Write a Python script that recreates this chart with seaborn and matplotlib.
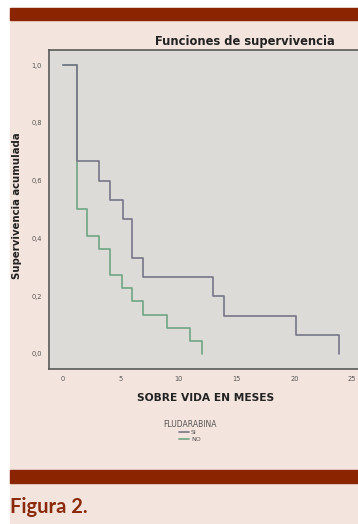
import numpy as np
import pandas as pd
import matplotlib
matplotlib.use("Agg")
import matplotlib.pyplot as plt
from matplotlib.patches import Rectangle
import seaborn as sns

# Kaplan-Meier step estimates (months, cumulative survival)
meses_si = [0, 1.2, 3.1, 4.1, 5.2, 6.0, 6.9, 13.0, 13.9, 20.1, 23.9]
surv_si = [1.0, 0.667, 0.600, 0.533, 0.467, 0.333, 0.267, 0.200, 0.133, 0.067, 0.0]
meses_no = [0, 1.2, 2.1, 3.1, 4.1, 5.1, 6.0, 6.9, 9.0, 11.0, 12.0]
surv_no = [1.0, 0.500, 0.409, 0.364, 0.273, 0.227, 0.182, 0.136, 0.091, 0.045, 0.0]

grupos = ["SI", "NO"]
x_ticks = [0, 5, 10, 15, 20, 25]
y_ticks = [0.0, 0.2, 0.4, 0.6, 0.8, 1.0]
y_tick_labels = ["0,0", "0,2", "0,4", "0,6", "0,8", "1,0"]

df = pd.concat([
    pd.DataFrame({"meses": meses_si, "surv": surv_si, "grupo": grupos[0]}),
    pd.DataFrame({"meses": meses_no, "surv": surv_no, "grupo": grupos[1]}),
], ignore_index=True)

sns.set_style("white")
plt.rcParams["font.family"] = ["DejaVu Sans"]

W, H = 358, 524
fig = plt.figure(figsize=(W / 100, H / 100), dpi=100, facecolor="white")

pink = "#f4e4de"
brick = "#8b2400"
fig.patches.append(Rectangle((10 / W, 0), 1 - 10 / W, (H - 8) / H,
                             transform=fig.transFigure, color=pink, zorder=-10))
fig.patches.append(Rectangle((10 / W, (H - 20) / H), 1 - 10 / W, 12 / H,
                             transform=fig.transFigure, color=brick, zorder=-5))
fig.patches.append(Rectangle((10 / W, (H - 483) / H), 1 - 10 / W, 13 / H,
                             transform=fig.transFigure, color=brick, zorder=-5))

ax = fig.add_axes([49 / W, (H - 369) / H, (W - 49) / W, (369 - 50) / H])
ax.set_facecolor("#dddbd8")

palette = {"SI": "#767688", "NO": "#6fa482"}
sns.lineplot(data=df, x="meses", y="surv", hue="grupo", hue_order=grupos,
             palette=palette, drawstyle="steps-post", estimator=None, sort=False,
             linewidth=1.2, ax=ax, legend=True)
# keep the SI curve above the NO curve where they overlap
ax.lines[0].set_zorder(3)
ax.lines[1].set_zorder(2)

ax.set_xlim(-1.2, 25.5)
ax.set_ylim(-0.052, 1.052)
ax.set_xticks(x_ticks)
ax.set_xticklabels([str(t) for t in x_ticks], fontsize=4.8, color="#555555")
ax.set_yticks(y_ticks)
ax.set_yticklabels(y_tick_labels, fontsize=4.8, color="#555555")
ax.tick_params(axis="both", direction="out", length=3, width=0.8, color="#555555", pad=2)
for side in ["top", "left", "bottom"]:
    ax.spines[side].set_visible(True)
    ax.spines[side].set_color("#5a5a5a")
    ax.spines[side].set_linewidth(1.2)
ax.spines["right"].set_visible(False)
ax.set_xlabel("")
ax.set_ylabel("")

handles, labels = ax.get_legend_handles_labels()
ax.get_legend().remove()
leg = fig.legend(handles, labels, title="FLUDARABINA", loc="center",
                 bbox_to_anchor=(190 / W, (H - 431) / H), frameon=False,
                 fontsize=4.5, title_fontsize=5.5, handlelength=1.6,
                 labelspacing=0.2, handletextpad=0.3, borderpad=0.1)
leg.get_title().set_color("#555555")
for t in leg.get_texts():
    t.set_color("#555555")

fig.text(245 / W, (H - 42) / H, "Funciones de supervivencia", ha="center", va="center",
         fontsize=8.3, fontweight="bold", color="#222222")
fig.text(17 / W, (H - 206) / H, "Supervivencia acumulada", ha="center", va="center",
         rotation=90, fontsize=7.3, fontweight="bold", color="#222222")
fig.text(206 / W, (H - 398) / H, "SOBRE VIDA EN MESES", ha="center", va="center",
         fontsize=7.7, fontweight="bold", color="#222222")
fig.text(10 / W, (H - 507) / H, "Figura 2.", ha="left", va="center",
         fontsize=14.5, fontweight="bold", color="#8b2a0a", family="Lato")

fig.savefig("out.png", dpi=100, facecolor=fig.get_facecolor())
